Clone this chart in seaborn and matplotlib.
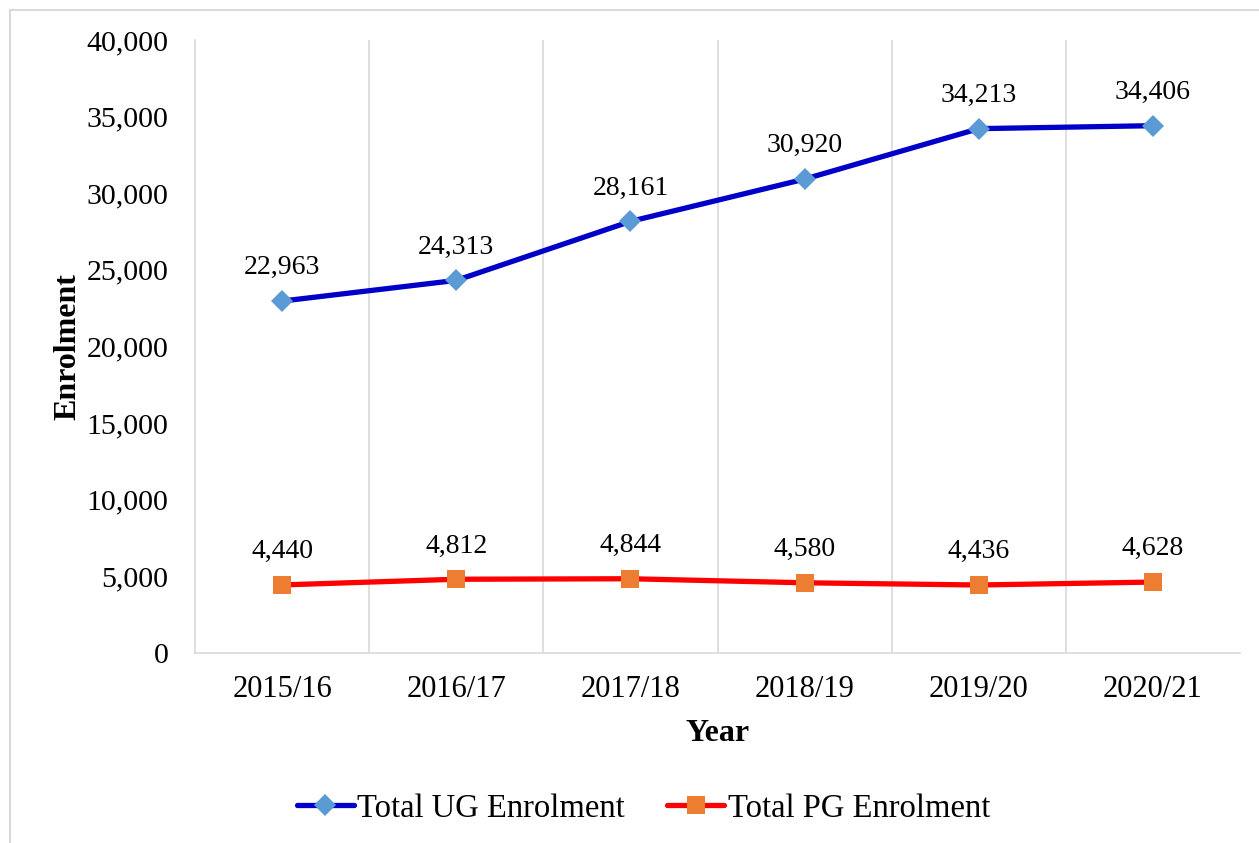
import matplotlib
matplotlib.use("Agg")
import matplotlib.pyplot as plt
import seaborn as sns
import pandas as pd
from matplotlib.ticker import FuncFormatter, FixedLocator
from matplotlib.patches import Rectangle
from matplotlib.lines import Line2D

years = ["2015/16", "2016/17", "2017/18", "2018/19", "2019/20", "2020/21"]
ug_values = [22963, 24313, 28161, 30920, 34213, 34406]
pg_values = [4440, 4812, 4844, 4580, 4436, 4628]
series_names = ["Total UG Enrolment", "Total PG Enrolment"]
y_ticks = [0, 5000, 10000, 15000, 20000, 25000, 30000, 35000, 40000]

sns.set_theme(style="white")
plt.rcParams['font.family'] = ['Liberation Serif', 'DejaVu Serif']
plt.rcParams['text.color'] = 'black'
plt.rcParams['xtick.color'] = 'black'
plt.rcParams['ytick.color'] = 'black'
plt.rcParams['axes.labelcolor'] = 'black'

fig = plt.figure(figsize=(12.59, 8.43), dpi=100)
ax = fig.add_axes([0.1549, 0.2254, 0.8300, 0.7272])

df = pd.DataFrame({
    "Year": years * 2,
    "Enrolment": ug_values + pg_values,
    "Series": [series_names[0]] * len(years) + [series_names[1]] * len(years),
})

styles = {
    series_names[0]: dict(color="#0000C8", marker="D", mfc="#5B9BD5", ms=11),
    series_names[1]: dict(color="#FF0000", marker="s", mfc="#ED7D31", ms=13),
}

handles = []
for name in series_names:
    st = styles[name]
    sub = df[df["Series"] == name]
    sns.lineplot(data=sub, x="Year", y="Enrolment", ax=ax, color=st["color"],
                 linewidth=3.8, marker=st["marker"], markersize=st["ms"],
                 markerfacecolor=st["mfc"], markeredgecolor=st["mfc"],
                 markeredgewidth=0, legend=False, zorder=3)
    for xv, yv in zip(sub["Year"], sub["Enrolment"]):
        ax.annotate(f"{yv:,}", (xv, yv), xytext=(0, 24), textcoords="offset points",
                    ha="center", va="center", fontsize=20, color="black")
    handles.append(Line2D([], [], color=st["color"], linewidth=3.8, marker=st["marker"],
                          markersize=st["ms"], markerfacecolor=st["mfc"],
                          markeredgewidth=0, solid_capstyle="round"))

ax.set_xlim(-0.5, len(years) - 0.5)
ax.set_ylim(0, 40000)
ax.set_yticks(y_ticks)
ax.yaxis.set_major_formatter(FuncFormatter(lambda v, p: f"{int(v):,}"))
ax.xaxis.set_minor_locator(FixedLocator([i + 0.5 for i in range(len(years) - 1)]))
ax.grid(False)
ax.grid(True, which="minor", axis="x", color="#D9D9D9", linewidth=1.2)
ax.tick_params(axis="y", length=0, pad=19, labelsize=21.5, colors="black")
ax.tick_params(axis="x", which="both", length=0, pad=16, labelsize=22, colors="black")

for side in ["top", "right"]:
    ax.spines[side].set_visible(False)
for side in ["left", "bottom"]:
    ax.spines[side].set_color("#D9D9D9")
    ax.spines[side].set_linewidth(1.2)

ax.set_xlabel("Year", fontsize=23, fontweight="bold", color="black")
ax.xaxis.set_label_coords(0.5, -0.108)
ax.set_ylabel("Enrolment", fontsize=23, fontweight="bold", color="black")
ax.yaxis.set_label_coords(-0.108, 0.5)

fig.legend(handles, series_names, loc="center", bbox_to_anchor=(0.511, 0.041),
           ncol=2, frameon=False, fontsize=23.5, handlelength=1.75,
           handletextpad=0.1, columnspacing=1.3, labelcolor="black")

fig.patches.append(Rectangle((10 / 1259, -0.1), 1.2, 1.0 - 10 / 843 + 0.1,
                             transform=fig.transFigure, fill=False,
                             edgecolor="#D9D9D9", linewidth=1.5))

fig.savefig("out.png", dpi=100)
